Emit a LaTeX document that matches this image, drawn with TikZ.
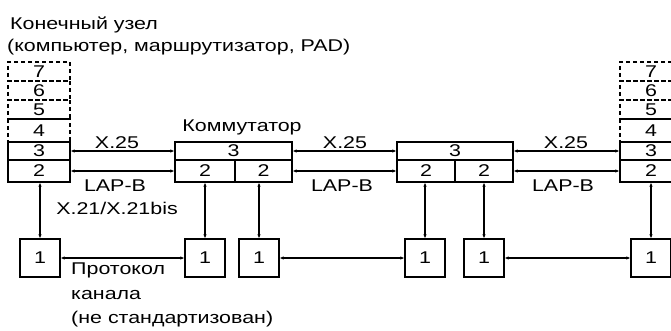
\documentclass[tikz,border=0pt]{standalone}
\usepackage{fontspec}
\setmainfont[FakeStretch=1.26]{Liberation Sans}
\usetikzlibrary{arrows.meta}
\begin{document}
\begin{tikzpicture}[x=1pt,y=-1pt,
  font=\fontsize{17}{19}\selectfont,
  lay/.style={draw,line width=1.3pt,inner sep=0pt,minimum width=#1},
  dlay/.style={draw,line width=1.2pt,dash pattern=on 4pt off 3pt,inner sep=0pt,minimum width=62pt},
  phy/.style={draw,line width=1.3pt,inner sep=0pt,minimum width=40pt,minimum height=38pt},
  link/.style={line width=1.3pt,{Latex[length=4pt,width=3.5pt]}-{Latex[length=4pt,width=3.5pt]}},
  lbl/.style={inner sep=0pt}]
\path[use as bounding box] (0,0) rectangle (671,331);
\clip (0,0) rectangle (671,331);
% top text
\node[lbl,anchor=west] (t1) at (10,25) {Конечный узел};
\node[lbl,anchor=west] (t2) at (7,47) {(компьютер, маршрутизатор, PAD)};
% left end node
\node[dlay,minimum height=19pt] (L7) at (39,71.5) {7};
\node[dlay,minimum height=19pt] (L6) at (39,90.5) {6};
\node[dlay,minimum height=19pt] (L5) at (39,109.5) {5};
\node[dlay,minimum height=23pt] (L4) at (39,130.5) {4};
\node[lay=62pt,minimum height=18pt] (L3) at (39,151) {3};
\node[lay=62pt,minimum height=22pt] (L2) at (39,171) {2};
% switch 1
\node[lbl] (sw) at (242,127) {Коммутатор};
\node[lay=117pt,minimum height=18pt] (S3) at (233.5,151) {3};
\node[lay=60pt,minimum height=22pt] (S2a) at (205,171) {2};
\node[lay=57pt,minimum height=22pt] (S2b) at (263.5,171) {2};
% switch 2
\node[lay=116pt,minimum height=18pt] (T3) at (455,151) {3};
\node[lay=58pt,minimum height=22pt] (T2a) at (426,171) {2};
\node[lay=58pt,minimum height=22pt] (T2b) at (484,171) {2};
% right end node
\node[dlay,minimum height=19pt] (R7) at (651,71.5) {7};
\node[dlay,minimum height=19pt] (R6) at (651,90.5) {6};
\node[dlay,minimum height=19pt] (R5) at (651,109.5) {5};
\node[dlay,minimum height=23pt] (R4) at (651,130.5) {4};
\node[lay=62pt,minimum height=18pt] (R3) at (651,151) {3};
\node[lay=62pt,minimum height=22pt] (R2) at (651,171) {2};
% physical boxes
\node[phy] (P1) at (40,258) {1};
\node[phy] (P2) at (205,258) {1};
\node[phy] (P3) at (259,258) {1};
\node[phy] (P4) at (425,258) {1};
\node[phy] (P5) at (484,258) {1};
\node[phy] (P6) at (651,258) {1};
% horizontal links
\draw[link] (L3.east) -- (S3.west);
\draw[link] (S3.east) -- (T3.west);
\draw[link] (T3.east) -- (R3.west);
\draw[link] (L2.east) -- (S2a.west);
\draw[link] (S2b.east) -- (T2a.west);
\draw[link] (T2b.east) -- (R2.west);
\draw[link] (P1.east) -- (P2.west);
\draw[link] (P3.east) -- (P4.west);
\draw[link] (P5.east) -- (P6.west);
% vertical links
\draw[link] (P1.north |- L2.south) -- (P1.north);
\draw[link] (P2.north |- S2a.south) -- (P2.north);
\draw[link] (P3.north |- S2b.south) -- (P3.north);
\draw[link] (P4.north |- T2a.south) -- (P4.north);
\draw[link] (P5.north |- T2b.south) -- (P5.north);
\draw[link] (P6.north |- R2.south) -- (P6.north);
% labels
\node[lbl] (x1) at (117,143) {X.25};
\node[lbl] (x2) at (345,143) {X.25};
\node[lbl] (x3) at (566,143) {X.25};
\node[lbl] (b1) at (115,186) {LAP-B};
\node[lbl] (b2) at (342,186) {LAP-B};
\node[lbl] (b3) at (563,186) {LAP-B};
\node[lbl] (x21) at (117,208) {X.21/X.21bis};
\node[lbl,anchor=west] (p1) at (71,270) {Протокол};
\node[lbl,anchor=west] (p2) at (71,295) {канала};
\node[lbl,anchor=west] (p3) at (71,319) {(не стандартизован)};
\end{tikzpicture}
\end{document}
